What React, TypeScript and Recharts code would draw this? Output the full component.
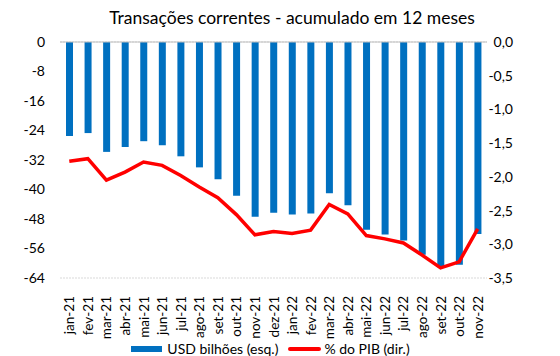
import React from 'react';
import {
  ComposedChart,
  Bar,
  Line,
  XAxis,
  YAxis,
  CartesianGrid,
  ReferenceLine,
  Legend,
} from 'recharts';

const months = [
  'jan-21', 'fev-21', 'mar-21', 'abr-21', 'mai-21', 'jun-21', 'jul-21', 'ago-21',
  'set-21', 'out-21', 'nov-21', 'dez-21', 'jan-22', 'fev-22', 'mar-22', 'abr-22',
  'mai-22', 'jun-22', 'jul-22', 'ago-22', 'set-22', 'out-22', 'nov-22',
];

const usdBilhoes = [
  -25.5, -24.7, -29.8, -28.5, -26.9, -28.0, -31.0, -34.0,
  -37.2, -41.7, -47.4, -46.3, -46.8, -46.5, -41.0, -44.3,
  -50.9, -52.2, -53.8, -57.7, -61.1, -60.4, -52.1,
];

const pctPib = [
  -1.77, -1.73, -2.05, -1.93, -1.78, -1.83, -1.98, -2.15,
  -2.31, -2.56, -2.86, -2.81, -2.84, -2.79, -2.41, -2.55,
  -2.87, -2.92, -2.98, -3.16, -3.35, -3.26, -2.77,
];

const leftTicks = [0, -8, -16, -24, -32, -40, -48, -56, -64];
const rightTicks = [0, -0.5, -1, -1.5, -2, -2.5, -3, -3.5];

const FONT = 'Lato, "DejaVu Sans", sans-serif';

const chartData = months.map((m, i) => ({
  month: m,
  usd: usdBilhoes[i],
  pib: pctPib[i],
}));

// rotated month labels, reading bottom to top
const MonthTick = ({ x, y, payload }: any) => (
  <text
    x={x}
    y={y}
    transform={`rotate(-90, ${x}, ${y})`}
    dx={-10}
    dy={5}
    textAnchor="end"
    fill="#000"
    fontSize={13.5}
    fontFamily={FONT}
  >
    {payload.value}
  </text>
);

const LegendContent = () => (
  <div
    style={{
      display: 'flex',
      justifyContent: 'center',
      alignItems: 'center',
      fontFamily: FONT,
      fontSize: 14,
      color: '#000',
      paddingLeft: 28,
    }}
  >
    <span style={{ display: 'inline-block', width: 31, height: 6, background: '#0070C0', marginRight: 5 }} />
    <span style={{ marginRight: 10 }}>USD bilhões (esq.)</span>
    <span style={{ display: 'inline-block', width: 33, height: 4, background: '#FF0000', borderRadius: 2, marginRight: 3 }} />
    <span>% do PIB (dir.)</span>
  </div>
);

export default function App() {
  return (
    <div style={{ position: 'absolute', left: 0, top: 0, width: 560, height: 356, background: '#fff' }}>
      <div
        style={{
          position: 'absolute',
          left: 0,
          top: 7,
          width: 584,
          textAlign: 'center',
          fontFamily: FONT,
          fontSize: 17.5,
          color: '#000',
        }}
      >
        Transações correntes - acumulado em 12 meses
      </div>
      <ComposedChart
        width={560}
        height={356}
        data={chartData}
        margin={{ top: 42, right: 47, left: 0, bottom: 0 }}
      >
        <CartesianGrid vertical={false} stroke="#d9d9d9" strokeDasharray="2 1" />
        <XAxis
          dataKey="month"
          axisLine={false}
          tickLine={false}
          interval={0}
          height={62}
          tick={<MonthTick />}
        />
        <YAxis
          yAxisId="left"
          domain={[-64, 0]}
          ticks={leftTicks}
          axisLine={false}
          tickLine={false}
          width={60}
          tick={{ fill: '#000', fontSize: 14, fontFamily: FONT, dx: -7 }}
        />
        <YAxis
          yAxisId="right"
          orientation="right"
          domain={[-3.5, 0]}
          ticks={rightTicks}
          axisLine={false}
          tickLine={false}
          width={26}
          tick={{ fill: '#000', fontSize: 14, fontFamily: FONT, textAnchor: 'end', dx: 18 }}
          tickFormatter={(v: number) => v.toFixed(1).replace('.', ',')}
        />
        <ReferenceLine yAxisId="left" y={0} stroke="#bfbfbf" />
        <Bar
          yAxisId="left"
          dataKey="usd"
          fill="#0070C0"
          barSize={7}
          isAnimationActive={false}
        />
        <Line
          yAxisId="right"
          dataKey="pib"
          stroke="#FF0000"
          strokeWidth={3.5}
          dot={false}
          type="linear"
          isAnimationActive={false}
        />
        <Legend verticalAlign="bottom" height={16} content={<LegendContent />} />
      </ComposedChart>
    </div>
  );
}
